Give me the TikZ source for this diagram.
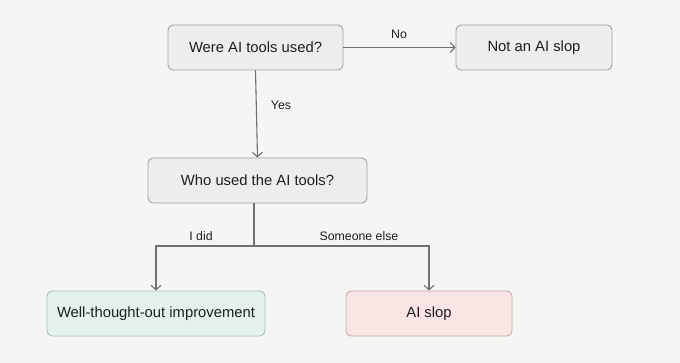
\documentclass[tikz,border=0pt]{standalone}
\usepackage{fontspec}
\setmainfont{Liberation Sans}
\usetikzlibrary{arrows.meta}
\definecolor{paper}{HTML}{F5F5F3}
\definecolor{boxgray}{HTML}{EDEDEB}
\definecolor{boxline}{HTML}{A0A0A0}
\definecolor{mint}{HTML}{E3F1EA}
\definecolor{mintline}{HTML}{A9C2B6}
\definecolor{blush}{HTML}{F8E4E3}
\definecolor{blushline}{HTML}{C9AAAA}
\definecolor{wire}{HTML}{707070}
\definecolor{ink}{HTML}{1E1E1E}

\tikzset{
  flowbox/.style={draw=boxline, fill=boxgray, rounded corners=5pt, line width=0.9pt,
    minimum height=45pt, inner sep=0pt, text=ink, font=\fontsize{14.8}{18}\selectfont},
  goodbox/.style={flowbox, draw=mintline, fill=mint},
  badbox/.style={flowbox, draw=blushline, fill=blush},
  wirelabel/.style={text=ink, font=\fontsize{12.3}{15}\selectfont, inner sep=0pt},
  flow/.style={draw=wire, line width=1.1pt, -{Straight Barb[length=4.5pt,width=10pt,line width=1.1pt]}},
}

\begin{document}
\begin{tikzpicture}[x=1pt, y=-1pt]
    % Background
    \fill[paper] (0,0) rectangle (680,363);
    \useasboundingbox (0,0) rectangle (680,363);

    % Questions
    \node[flowbox, minimum width=175pt] (used) at (255.5,47.5) {Were AI tools used?};
    \node[flowbox, minimum width=219pt] (who) at (257.5,180.5) {Who used the AI tools?};

    % Outcomes
    \node[flowbox, minimum width=156pt] (notslop) at (534,47.5) {Not an AI slop};
    \node[goodbox, minimum width=218pt] (improve) at (156,313.5) {Well-thought-out improvement};
    \node[badbox, minimum width=166pt] (slop) at (429,313.5) {AI slop};

    % Branch point
    \coordinate (split) at (254,246);

    % Connectors
    \draw[flow] (used.east) -- (notslop.west);
    \draw[flow] (used.south) -- (who.north);
    \draw[draw=wire, line width=1.1pt] (who.south -| split) -- (split);
    \draw[flow] (split) -| (improve.north);
    \draw[flow] (split) -| (slop.north);

    % Labels
    \node[wirelabel] (nolab) at (399,34) {No};
    \node[wirelabel] (yeslab) at (281,105) {Yes};
    \node[wirelabel] (ididlab) at (201,236) {I did};
    \node[wirelabel] (elselab) at (359,236) {Someone else};
\end{tikzpicture}
\end{document}
